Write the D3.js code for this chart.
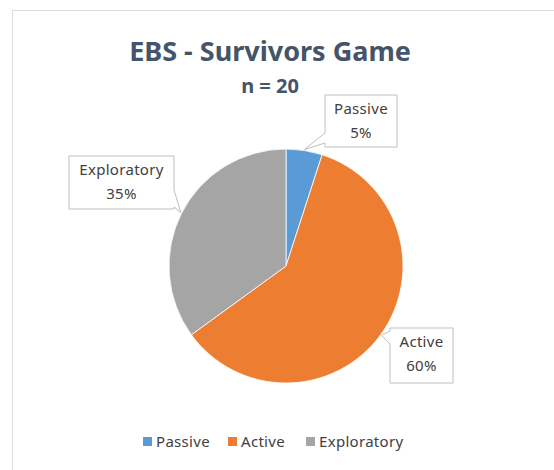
<!DOCTYPE html>
<html lang="en">
<head>
<meta charset="utf-8">
<title>EBS - Survivors Game</title>
<script src="https://d3js.org/d3.v7.min.js"></script>
<style>
  body { margin: 0; background: #fff; }
  text { font-family: "Noto Sans", "Open Sans", sans-serif; }
</style>
</head>
<body>
<div id="chart"></div>
<script>
var categories = ["Passive", "Active", "Exploratory"];
var values = [5, 60, 35];
var colors = ["#5b9bd5", "#ed7d31", "#a5a5a5"];
var labelText = ["5%", "60%", "35%"];

var w = 554, h = 470;
var cx = 286, cy = 266, radius = 117;

var svg = d3.select("#chart").append("svg")
  .attr("width", w).attr("height", h);

// chart area border
svg.append("rect")
  .attr("x", 12.5).attr("y", 10.5)
  .attr("width", 560).attr("height", 480)
  .attr("fill", "#fff").attr("stroke", "#d9dee6");

svg.append("text")
  .attr("x", 270).attr("y", 61)
  .attr("text-anchor", "middle")
  .attr("font-size", 27).attr("font-weight", "bold")
  .attr("fill", "#44546a")
  .text("EBS - Survivors Game");

svg.append("text")
  .attr("x", 270).attr("y", 93)
  .attr("text-anchor", "middle")
  .attr("font-size", 20).attr("font-weight", "bold")
  .attr("fill", "#44546a")
  .text("n = 20");

var pie = d3.pie().sort(null).value(function(d) { return d; });
var arcs = pie(values);
var arc = d3.arc().innerRadius(0).outerRadius(radius);

var g = svg.append("g").attr("transform", "translate(" + cx + "," + cy + ")");
g.selectAll("path")
  .data(arcs)
  .enter()
  .append("path")
  .attr("d", arc)
  .attr("fill", function(d, i) { return colors[i]; })
  .attr("stroke", "#fff")
  .attr("stroke-width", 0.8);

// callout boxes; side = edge the pointer leaves from, base = offsets along that edge
var boxes = [
  { x: 325, y: 95, w: 72, h: 52, side: "left", base: [38, 48] },
  { x: 390, y: 328, w: 63, h: 55, side: "left", base: [3, 16] },
  { x: 69, y: 156, w: 105, h: 53, side: "right", base: [34, 51] }
];

arcs.forEach(function(d, i) {
  var b = boxes[i];
  var a = (d.startAngle + d.endAngle) / 2;
  var px = cx + Math.sin(a) * (radius + 1);
  var py = cy - Math.cos(a) * (radius + 1);

  var path = d3.path();
  path.moveTo(b.x, b.y);
  path.lineTo(b.x + b.w, b.y);
  if (b.side === "right") {
    path.lineTo(b.x + b.w, b.y + b.base[0]);
    path.lineTo(px, py);
    path.lineTo(b.x + b.w, b.y + b.base[1]);
  }
  path.lineTo(b.x + b.w, b.y + b.h);
  path.lineTo(b.x, b.y + b.h);
  if (b.side === "left") {
    path.lineTo(b.x, b.y + b.base[1]);
    path.lineTo(px, py);
    path.lineTo(b.x, b.y + b.base[0]);
  }
  path.closePath();

  svg.append("path")
    .attr("d", path.toString())
    .attr("fill", "#fff")
    .attr("stroke", "#bfbfbf")
    .attr("stroke-width", 1);

  svg.append("text")
    .attr("x", b.x + b.w / 2).attr("y", b.y + 19)
    .attr("text-anchor", "middle")
    .attr("font-size", 15).attr("letter-spacing", 0.3)
    .attr("fill", "#404040")
    .text(categories[i]);
  svg.append("text")
    .attr("x", b.x + b.w / 2).attr("y", b.y + 43)
    .attr("text-anchor", "middle")
    .attr("font-size", 15).attr("letter-spacing", 0.3)
    .attr("fill", "#404040")
    .text(labelText[i]);
});

// legend
var legendX = [143, 228, 306];
var legend = svg.selectAll(".legend")
  .data(categories)
  .enter()
  .append("g")
  .attr("class", "legend")
  .attr("transform", function(d, i) { return "translate(" + legendX[i] + ",437)"; });
legend.append("rect")
  .attr("width", 9).attr("height", 9)
  .attr("fill", function(d, i) { return colors[i]; });
legend.append("text")
  .attr("x", 13).attr("y", 10)
  .attr("font-size", 15).attr("letter-spacing", 0.3)
  .attr("fill", "#404040")
  .text(function(d) { return d; });
</script>
</body>
</html>
